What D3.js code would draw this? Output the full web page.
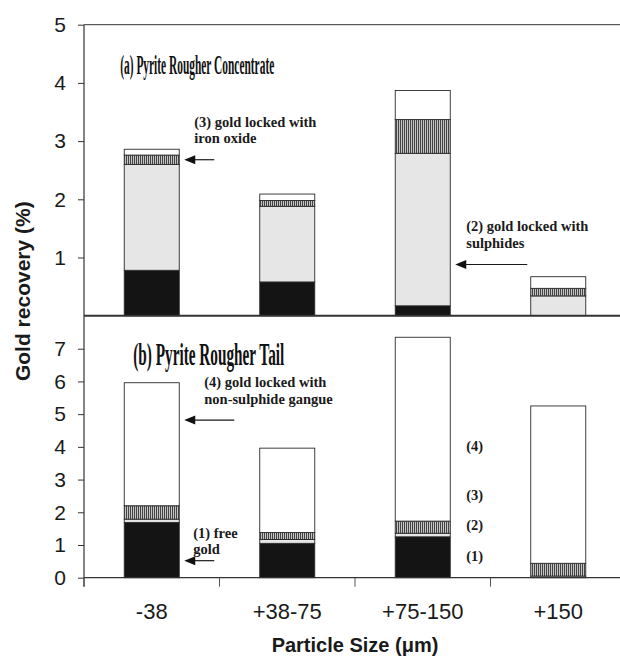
<!DOCTYPE html>
<html><head><meta charset="utf-8">
<script src="https://cdn.jsdelivr.net/npm/d3@7/dist/d3.min.js"></script>
<style>html,body{margin:0;padding:0;background:#fff;}svg{display:block;}</style>
</head><body>
<script>
const categories = ["-38", "+38-75", "+75-150", "+150"];
// (a) Pyrite Rougher Concentrate
const concFree  = [0.78, 0.58, 0.17, 0.00];
const concSulph = [1.82, 1.30, 2.62, 0.34];
const concIron  = [0.16, 0.10, 0.58, 0.13];
const concNon   = [0.10, 0.11, 0.50, 0.20];
// (b) Pyrite Rougher Tail
const tailFree  = [1.69, 1.05, 1.25, 0.00];
const tailSulph = [0.10, 0.12, 0.11, 0.05];
const tailIron  = [0.41, 0.21, 0.37, 0.39];
const tailNon   = [3.76, 2.58, 5.62, 4.81];
const topTicks = [1, 2, 3, 4, 5];
const botTicks = [0, 1, 2, 3, 4, 5, 6, 7];
const seriesKeys = ["free", "sulph", "iron", "non"];

const W = 620, H = 657;
const svg = d3.select("body").append("svg").attr("width", W).attr("height", H);
const defs = svg.append("defs");
const pat = defs.append("pattern").attr("id", "hatch").attr("patternUnits", "userSpaceOnUse")
  .attr("width", 2).attr("height", 4);
pat.append("rect").attr("width", 2).attr("height", 4).attr("fill", "#c4c4c4");
pat.append("rect").attr("width", 1).attr("height", 4).attr("fill", "#444");

const fills = {free: "#141414", sulph: "#e6e6e6", iron: "url(#hatch)", non: "#ffffff"};

const x0 = 84, x1 = 626;
const x = d3.scaleBand().domain(categories).range([x0, x1]).paddingInner(0.594).paddingOuter(0.297);
const yTop = d3.scaleLinear().domain([0, 5]).range([315.7, 24.7]);
const yBot = d3.scaleLinear().domain([0, 8]).range([577.7, 316]);

function table(f, s, i, n) {
  return categories.map((c, k) => ({cat: c, free: f[k], sulph: s[k], iron: i[k], non: n[k]}));
}
const stack = d3.stack().keys(seriesKeys);
function drawBars(data, y) {
  const st = stack(data);
  const g = svg.append("g");
  st.forEach(layer => {
    g.selectAll(null).data(layer.filter(d => d[1] - d[0] > 0)).enter().append("rect")
      .attr("x", d => x(d.data.cat))
      .attr("width", x.bandwidth())
      .attr("y", d => y(d[1]))
      .attr("height", d => y(d[0]) - y(d[1]))
      .attr("fill", fills[layer.key])
      .attr("stroke", "#2a2a2a").attr("stroke-width", 0.9);
  });
  return st;
}
drawBars(table(concFree, concSulph, concIron, concNon), yTop);
drawBars(table(tailFree, tailSulph, tailIron, tailNon), yBot);

// frame lines
const frame = svg.append("g").attr("stroke", "#333").attr("fill", "none");
frame.append("line").attr("x1", x0).attr("x2", W + 5).attr("y1", yTop(5)).attr("y2", yTop(5)).attr("stroke-width", 1);
frame.append("line").attr("x1", x0).attr("x2", W + 5).attr("y1", yTop(0)).attr("y2", yTop(0)).attr("stroke-width", 2);
frame.append("line").attr("x1", x0).attr("x2", W + 5).attr("y1", yBot(0)).attr("y2", yBot(0)).attr("stroke-width", 1.2);

// y axes
function styleAxis(g, size) {
  g.select(".domain").remove();
  g.selectAll(".tick line").attr("stroke", "#333");
  g.selectAll(".tick text").attr("font-family", "Liberation Sans, Arial, sans-serif")
    .attr("font-size", size).attr("fill", "#1a1a1a");
}
svg.append("g").attr("transform", `translate(${x0},0)`)
  .call(d3.axisLeft(yTop).tickValues(topTicks).tickSize(6).tickPadding(12).tickFormat(d3.format("d")))
  .call(g => styleAxis(g, 21));
svg.append("g").attr("transform", `translate(${x0},0)`)
  .call(d3.axisLeft(yBot).tickValues(botTicks).tickSize(6).tickPadding(12).tickFormat(d3.format("d")))
  .call(g => styleAxis(g, 21));
svg.append("line").attr("x1", x0).attr("x2", x0).attr("y1", yTop(5)).attr("y2", yBot(0) + 9)
  .attr("stroke", "#333").attr("stroke-width", 1.2);

// x axis
svg.append("g").attr("transform", `translate(0,${yBot(0)})`)
  .call(d3.axisBottom(x).tickSize(0).tickPadding(26))
  .call(g => styleAxis(g, 22));
const step = x.step();
svg.append("g").selectAll("line").data(categories).enter().append("line")
  .attr("x1", d => x(d) - step * x.paddingInner() / 2).attr("x2", d => x(d) - step * x.paddingInner() / 2)
  .attr("y1", yBot(0)).attr("y2", yBot(0) + 9).attr("stroke", "#555").attr("stroke-width", 1);

// axis titles
svg.append("text").attr("x", (x0 + x1) / 2).attr("y", 652).attr("text-anchor", "middle")
  .attr("font-family", "Liberation Sans, Arial, sans-serif").attr("font-weight", "bold")
  .attr("font-size", 20).attr("fill", "#1a1a1a").text("Particle Size (μm)");
svg.append("text").attr("transform", `translate(30,${(yTop(5) + yBot(0)) / 2 - 10}) rotate(-90)`)
  .attr("text-anchor", "middle")
  .attr("font-family", "Liberation Sans, Arial, sans-serif").attr("font-weight", "bold")
  .attr("font-size", 21).attr("fill", "#1a1a1a").text("Gold recovery (%)");

// panel titles
const serif = "Liberation Serif, Times New Roman, serif";
svg.append("text").attr("x", x(categories[0]) - 4).attr("y", yTop(4.15))
  .attr("font-family", serif).attr("font-weight", "bold").attr("font-size", 28)
  .attr("textLength", 154).attr("lengthAdjust", "spacingAndGlyphs").attr("fill", "#111")
  .text("(a) Pyrite Rougher Concentrate");
svg.append("text").attr("x", x(categories[0]) + 9).attr("y", yBot(6.5))
  .attr("font-family", serif).attr("font-weight", "bold").attr("font-size", 31)
  .attr("textLength", 151).attr("lengthAdjust", "spacingAndGlyphs").attr("fill", "#111")
  .text("(b) Pyrite Rougher Tail");

// annotations
const bw = x.bandwidth();
const right = c => x(c) + bw;
function note(lines, xPos, yPos, dy) {
  const t = svg.append("text").attr("font-family", serif).attr("font-weight", "bold")
    .attr("font-size", 14.5).attr("fill", "#1a1a1a");
  lines.forEach((l, i) => t.append("tspan").attr("x", xPos).attr("y", yPos + i * dy).text(l));
}
function arrow(xHead, xTail, yPos) {
  svg.append("line").attr("x1", xHead + 9).attr("x2", xTail).attr("y1", yPos).attr("y2", yPos)
    .attr("stroke", "#1a1a1a").attr("stroke-width", 1.2);
  svg.append("path").attr("d", `M${xHead},${yPos} L${xHead + 11},${yPos - 4.5} L${xHead + 11},${yPos + 4.5} Z`)
    .attr("fill", "#111");
}
note(["(3) gold locked with", "iron oxide"], right(categories[0]) + 15, yTop(3.24), 16);
arrow(right(categories[0]) + 5, right(categories[0]) + 35, yTop(2.68));
note(["(2) gold locked with", "sulphides"], right(categories[2]) + 16, yTop(1.455), 17);
arrow(right(categories[2]) + 5, right(categories[2]) + 77, yTop(0.88));
note(["(4) gold locked with", "non-sulphide gangue"], right(categories[0]) + 25, yBot(5.83), 17);
arrow(right(categories[0]) + 5, right(categories[0]) + 55, yBot(4.82));
note(["(1) free", "gold"], right(categories[0]) + 14, yBot(1.21), 16);
arrow(right(categories[0]) + 5, right(categories[0]) + 35, yBot(0.52));

const legendVals = [4.04, 2.53, 1.61, 0.67];
const legendLabels = ["(4)", "(3)", "(2)", "(1)"];
svg.append("g").selectAll("text").data(legendLabels).enter().append("text")
  .attr("x", right(categories[2]) + 16).attr("y", (d, i) => yBot(legendVals[i]) + 5)
  .attr("font-family", serif).attr("font-weight", "bold").attr("font-size", 14.5).attr("fill", "#1a1a1a")
  .text(d => d);
</script>
</body></html>
